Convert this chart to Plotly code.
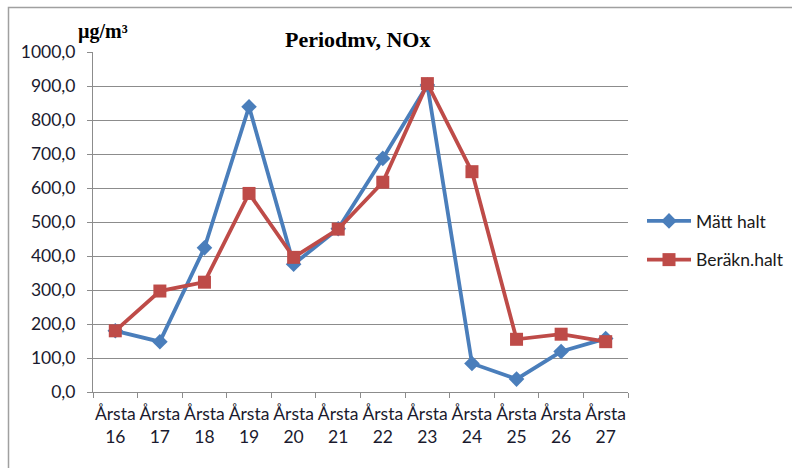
import plotly.graph_objects as go

# Measuring stations along the x axis
stations = ["Årsta<br>16", "Årsta<br>17", "Årsta<br>18", "Årsta<br>19", "Årsta<br>20",
            "Årsta<br>21", "Årsta<br>22", "Årsta<br>23", "Årsta<br>24", "Årsta<br>25",
            "Årsta<br>26", "Årsta<br>27"]

# Period mean NOx (µg/m³)
matt_halt = [180, 148, 424, 839, 376, 480, 687, 903, 84, 38, 119, 157]
berakn_halt = [180, 297, 323, 584, 396, 479, 617, 907, 648, 155, 170, 148]

y_ticks = [0, 100, 200, 300, 400, 500, 600, 700, 800, 900, 1000]
y_tick_text = [f"{v:.1f}".replace(".", ",") for v in y_ticks]

BLUE = "#4a7ebb"
RED = "#be4b48"
SANS = "Lato, Open Sans, sans-serif"
TICK_FONT = dict(family=SANS, size=17.5, color="#1a1a2e")

fig = go.Figure()
fig.add_trace(go.Scatter(
    x=stations, y=matt_halt, name="Mätt halt", mode="lines+markers",
    line=dict(color=BLUE, width=3.8),
    marker=dict(symbol="diamond", size=12, color=BLUE),
    legendgroup="a",
))
fig.add_trace(go.Scatter(
    x=stations, y=berakn_halt, name="Beräkn.halt", mode="lines+markers",
    line=dict(color=RED, width=3.8),
    marker=dict(symbol="square", size=13, color=RED),
    legendgroup="b",
))

L, R, T, B = 93, 164, 52, 76
W, H = 792, 468
pw, ph = W - L - R, H - T - B

def px_x(p):
    return (p - L) / pw

def px_y(p):
    return (H - B - p) / ph

fig.update_layout(
    width=W, height=H,
    margin=dict(l=L, r=R, t=T, b=B, autoexpand=False),
    paper_bgcolor="white", plot_bgcolor="white",
    showlegend=True,
    legend=dict(
        xref="container", yref="container",
        x=642 / W, y=1 - 203 / H, xanchor="left", yanchor="top",
        font=dict(family=SANS, size=17.5, color="#1a1a1a"),
        traceorder="grouped", tracegroupgap=13, itemwidth=44,
        bgcolor="rgba(0,0,0,0)",
    ),
    xaxis=dict(
        type="category", tickson="boundaries",
        showgrid=False, showline=True, linecolor="#8c8c8c", linewidth=1,
        ticks="outside", ticklen=5, tickcolor="#8c8c8c",
        tickfont=TICK_FONT, tickangle=0, ticklabelstandoff=6,
        range=[-0.5, len(stations) - 0.5],
    ),
    yaxis=dict(
        range=[0, 1000], tickvals=y_ticks, ticktext=y_tick_text,
        showgrid=True, gridcolor="#8c8c8c", gridwidth=1,
        showline=True, linecolor="#8c8c8c", linewidth=1,
        ticks="outside", ticklen=5, tickcolor="#8c8c8c",
        tickfont=TICK_FONT, zeroline=False, ticklabelstandoff=8,
    ),
    annotations=[
        dict(text="<b>Periodmv, NOx</b>", x=px_x(357), y=px_y(40),
             xref="paper", yref="paper", showarrow=False,
             xanchor="center", yanchor="middle",
             font=dict(family="Liberation Serif, serif", size=22, color="#000")),
        dict(text="<b>µg/m³</b>", x=px_x(76), y=px_y(32),
             xref="paper", yref="paper", showarrow=False,
             xanchor="left", yanchor="middle",
             font=dict(family="Liberation Serif, serif", size=20, color="#000")),
    ],
    shapes=[
        dict(type="rect", xref="paper", yref="paper",
             x0=px_x(8.5), y0=px_y(480), x1=px_x(810), y1=px_y(7.5),
             line=dict(color="#a0a0a0", width=1.5), layer="below"),
    ],
)

fig.write_html("out.html")
